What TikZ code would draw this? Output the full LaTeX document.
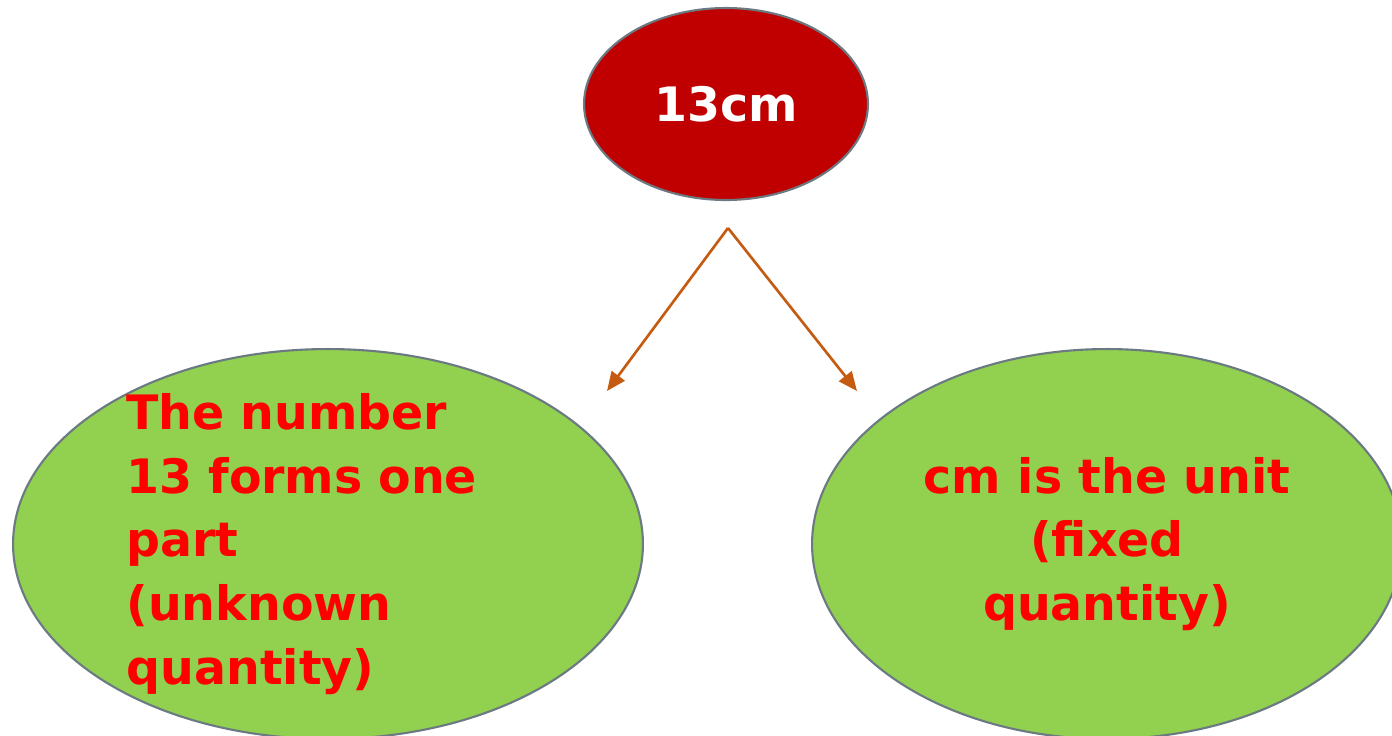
\documentclass[tikz,border=0pt]{standalone}
\usepackage{fontspec}
\setmainfont{DejaVu Sans}
\usetikzlibrary{shapes.geometric, arrows.meta, positioning}
\definecolor{topred}{HTML}{C00000}
\definecolor{leafgreen}{HTML}{92D050}
\definecolor{rimgray}{HTML}{6B7A82}
\definecolor{arrowbrown}{HTML}{C55A11}
\definecolor{textred}{HTML}{FF0000}

\begin{document}
\begin{tikzpicture}[x=0.02cm, y=-0.02cm,
	blob/.style={ellipse, draw=rimgray, line width=1.2pt, inner sep=0pt},
	bigtext/.style={font=\bfseries\fontsize{27}{36.3}\selectfont},
	pointer/.style={draw=arrowbrown, line width=1.5pt, -{Triangle[length=0.38cm, width=0.32cm]}}]
				\useasboundingbox (0,0) rectangle (1392,735);
				% top ellipse
				\node[blob, fill=topred, minimum width=5.68cm, minimum height=3.84cm, bigtext, text=white] (size) at (726,104) {13cm};
				% the two parts
				\node[blob, fill=leafgreen, minimum width=12.6cm, minimum height=7.8cm, inner ysep=-1cm, bigtext, text=textred, align=left, text width=8.06cm] (number) at (328,544) {The number\\13 forms one\\part\\(unknown\\quantity)};
				\node[blob, fill=leafgreen, minimum width=11.8cm, minimum height=7.8cm, bigtext, text=textred, align=center] (unit) at (1107,544) {cm is the unit\\(fixed\\quantity)};
				% arrows
				\coordinate (fork) at (728,228);
				\coordinate (leftend) at (607,391);
				\coordinate (rightend) at (857,391);
				\draw[pointer] (fork) -- (leftend);
				\draw[pointer] (fork) -- (rightend);
\end{tikzpicture}
\end{document}
